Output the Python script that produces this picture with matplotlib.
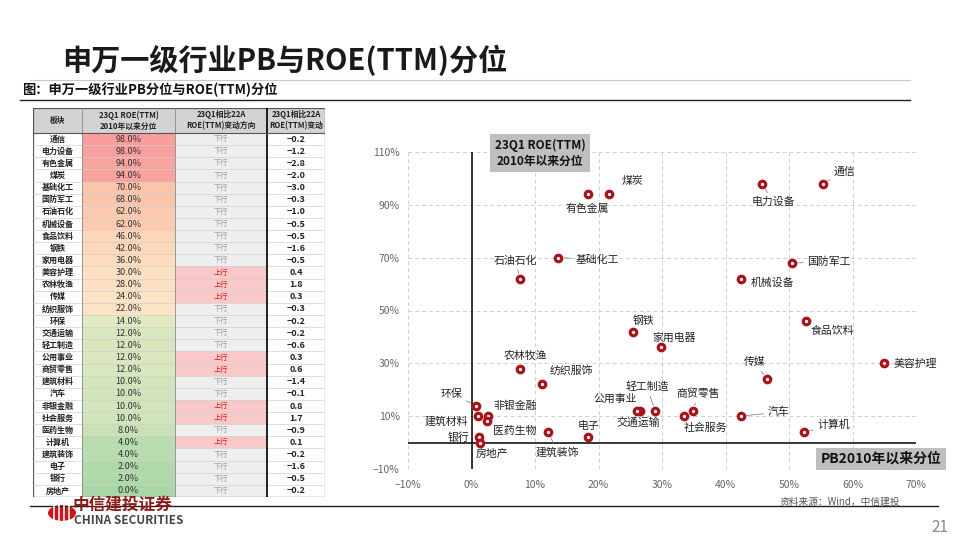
import matplotlib.pyplot as plt
from matplotlib.patches import Rectangle, Circle
from matplotlib.colors import LinearSegmentedColormap
from matplotlib.ticker import FuncFormatter

plt.rcParams['font.family'] = ['Noto Sans CJK SC', 'DejaVu Sans']

# ---- data ----
industries = ['通信', '电力设备', '有色金属', '煤炭', '基础化工', '国防军工', '石油石化', '机械设备',
              '食品饮料', '钢铁', '家用电器', '美容护理', '农林牧渔', '传媒', '纺织服饰', '环保',
              '交通运输', '轻工制造', '公用事业', '商贸零售', '建筑材料', '汽车', '非银金融',
              '社会服务', '医药生物', '计算机', '建筑装饰', '电子', '银行', '房地产']
roe_pct = [98, 98, 94, 94, 70, 68, 62, 62, 46, 42, 36, 30, 28, 24, 22, 14,
           12, 12, 12, 12, 10, 10, 10, 10, 8, 4, 4, 2, 2, 0]
roe_chg = [-0.2, -1.2, -2.8, -2.0, -3.0, -0.3, -1.0, -0.5, -0.5, -1.6, -0.5, 0.4, 1.8, 0.3,
           -0.3, -0.2, -0.2, -0.6, 0.3, 0.6, -1.4, -0.1, 0.8, 1.7, -0.9, 0.1, -0.2, -1.6,
           -0.5, -0.2]
pb_pct = [55.3, 45.7, 18.3, 21.7, 13.7, 50.4, 7.6, 42.5, 52.6, 25.4, 29.8, 65.0, 7.7, 46.5,
          11.1, 0.7, 26.6, 28.9, 26.0, 34.9, 1.1, 42.4, 2.6, 33.4, 2.5, 52.4, 12.1, 18.3,
          1.2, 1.3]
header = ['板块', '23Q1 ROE(TTM)\n2010年以来分位', '23Q1相比22A\nROE(TTM)变动方向',
          '23Q1相比22A\nROE(TTM)变动']
x_ticks = list(range(-10, 71, 10))
y_ticks = list(range(-10, 111, 20))

# label placement: offset in pixels from the point, alignment, leader line
label_layout = {
    '通信': (11, 12, 'left', True), '电力设备': (12, -18, 'center', True),
    '有色金属': (0, -15, 'center', False), '煤炭': (23, 13, 'center', False),
    '基础化工': (17, -2, 'left', True), '石油石化': (-4, 18, 'center', True),
    '国防军工': (16, 1, 'left', True), '机械设备': (9, -4, 'left', False),
    '钢铁': (11, 11, 'center', False), '家用电器': (13, 10, 'center', False),
    '食品饮料': (5, -10, 'left', False), '美容护理': (9, 0, 'left', False),
    '农林牧渔': (5, 13, 'center', False), '纺织服饰': (8, 14, 'left', False),
    '传媒': (-12, 17, 'center', True), '环保': (-14, 12, 'right', True),
    '非银金融': (5, 10, 'left', False), '建筑材料': (-10, -5, 'right', False),
    '医药生物': (6, -10, 'left', False), '银行': (-10, 0, 'right', False),
    '房地产': (-4, -11, 'left', False), '建筑装饰': (9, -20, 'center', True),
    '电子': (1, 11, 'center', False), '公用事业': (-21, 12, 'center', False),
    '交通运输': (-2, -12, 'center', False), '轻工制造': (-8, 24, 'center', True),
    '商贸零售': (5, 17, 'center', True), '社会服务': (22, -12, 'center', False),
    '汽车': (27, 4, 'left', True), '计算机': (13, 7, 'left', True),
}

W, H = 960, 540
fig = plt.figure(figsize=(9.6, 5.4), dpi=100)


def fx(px):
    return px / W


def fy(py):
    return 1 - py / H


# ---- slide frame ----
fig.text(fx(62), fy(60), '申万一级行业PB与ROE(TTM)分位', fontsize=21, fontweight='bold',
         color='#1a1a1a', ha='left', va='center')
fig.add_artist(plt.Line2D([fx(30), fx(910)], [fy(80), fy(80)], color='#c8c8c8', lw=0.8))
fig.text(fx(22), fy(90), '图：申万一级行业PB分位与ROE(TTM)分位', fontsize=9.5,
         fontweight='bold', color='#111', ha='left', va='center')
fig.add_artist(plt.Line2D([fx(20), fx(910)], [fy(100), fy(100)], color='#222', lw=1.0))
fig.add_artist(plt.Line2D([fx(30), fx(938)], [fy(506), fy(506)], color='#222', lw=1.0))
fig.text(fx(900), fy(502), '资料来源：Wind，中信建投', fontsize=7, color='#555',
         style='italic', ha='right', va='center')
fig.text(fx(948), fy(527), '21', fontsize=11, color='#888', ha='right', va='center')

# logo
logo = Circle((fx(62), fy(513)), 14 / W, transform=fig.transFigure, fc='#c8161d',
              ec='none')
fig.add_artist(logo)
for k in (-8, -3, 2, 7):
    fig.add_artist(plt.Line2D([fx(62 + k), fx(62 + k)], [fy(503), fy(523)], color='white',
                              lw=1.1))
fig.text(fx(73), fy(505), '中信建投证券', fontsize=12, fontweight='bold', color='#8e1b1b',
         ha='left', va='center')
fig.text(fx(74), fy(521), 'CHINA SECURITIES', fontsize=8.5, fontweight='bold',
         color='#444', ha='left', va='center')

# ---- table ----
cmap = LinearSegmentedColormap.from_list(
    'roe', [(0.0, '#a8d6a6'), (0.14, '#e2eac4'), (0.22, '#fde3c6'), (0.46, '#fdd6b8'),
            (0.70, '#fbc4ab'), (1.0, '#f89b9b')])

tab_w, tab_h = 292, 389
ax_t = fig.add_axes([fx(33), fy(497), tab_w / W, tab_h / H])
ax_t.set_xlim(0, tab_w)
ax_t.set_ylim(tab_h, 0)
ax_t.axis('off')

col_edges = [0, 49, 142, 234, 292]
head_h = 25
row_h = (tab_h - head_h) / len(industries)

ax_t.add_patch(Rectangle((0, 0), tab_w, head_h, fc='#d3d3d3', ec='none'))
for j, txt in enumerate(header):
    cx = (col_edges[j] + col_edges[j + 1]) / 2
    ax_t.text(cx, head_h / 2, txt, fontsize=5.6, fontweight='bold', color='#222',
              ha='center', va='center', linespacing=1.3)

for i, (name, roe, chg) in enumerate(zip(industries, roe_pct, roe_chg)):
    y0 = head_h + i * row_h
    yc = y0 + row_h / 2
    up = chg > 0
    ax_t.add_patch(Rectangle((col_edges[1], y0), col_edges[2] - col_edges[1], row_h,
                             fc=cmap(roe / 100), ec='none'))
    ax_t.add_patch(Rectangle((col_edges[2], y0), col_edges[3] - col_edges[2], row_h,
                             fc='#f9c8c8' if up else '#efefef', ec='none'))
    ax_t.text((col_edges[0] + col_edges[1]) / 2, yc, name, fontsize=5.8, fontweight='bold',
              color='#222', ha='center', va='center')
    ax_t.text((col_edges[1] + col_edges[2]) / 2, yc, f'{roe:.1f}%', fontsize=6.5,
              color='#333', ha='center', va='center')
    ax_t.text((col_edges[2] + col_edges[3]) / 2, yc, '上行' if up else '下行', fontsize=5.2,
              color='#d42020' if up else '#9a9a9a', ha='center', va='center')
    ax_t.text((col_edges[3] + col_edges[4]) / 2, yc, f'{chg:.1f}'.replace('-', '−'),
              fontsize=6.5, fontweight='bold', color='#222', ha='center', va='center')
    ax_t.plot([0, tab_w], [y0 + row_h, y0 + row_h], color='#d0d0d0', lw=0.5)

for j, xe in enumerate(col_edges[1:-1], start=1):
    if j == 3:
        ax_t.plot([xe, xe], [0, tab_h], color='#111', lw=1.3)
    else:
        ax_t.plot([xe, xe], [0, tab_h], color='#8a8a8a', lw=0.6)
ax_t.plot([0, tab_w], [head_h, head_h], color='#555', lw=0.8)
ax_t.add_patch(Rectangle((0, 0), tab_w, tab_h, fc='none', ec='#555', lw=0.9))

# ---- scatter ----
ax = fig.add_axes([fx(408), fy(469), (916 - 408) / W, (469 - 152) / H])
ax.set_xlim(-10, 70)
ax.set_ylim(-10, 110)
for s in ax.spines.values():
    s.set_visible(False)
ax.set_xticks(x_ticks)
ax.set_yticks(y_ticks)
pct_fmt = FuncFormatter(lambda v, p: f'{v:.0f}%'.replace('-', '−'))
ax.xaxis.set_major_formatter(pct_fmt)
ax.yaxis.set_major_formatter(pct_fmt)
ax.tick_params(length=0, labelsize=7.5, labelcolor='#666')
ax.tick_params(axis='x', pad=8)
ax.tick_params(axis='y', pad=6)
ax.grid(True, ls=(0, (4, 3)), color='#cfcfcf', lw=0.7)
ax.axhline(0, color='black', lw=1.1, zorder=3)
ax.axvline(0, color='black', lw=1.1, zorder=3)

ax.scatter(pb_pct, roe_pct, s=22, fc='white', ec='#a8141c', linewidths=2.3, zorder=6)
for name, xv, yv in zip(industries, pb_pct, roe_pct):
    dx, dy, ha, leader = label_layout[name]
    props = dict(arrowstyle='-', color='#888', lw=0.6, shrinkA=1, shrinkB=4) if leader else None
    ax.annotate(name, xy=(xv, yv), xytext=(dx, dy), textcoords='offset pixels', ha=ha,
                va='center', fontsize=7.8, color='#222', arrowprops=props, zorder=7)

fig.text(fx(540), fy(153), '23Q1 ROE(TTM)\n2010年以来分位', fontsize=8.5, fontweight='bold',
         color='#111', ha='center', va='center', linespacing=1.3,
         bbox=dict(boxstyle='square,pad=0.4', fc='#bfbfbf', ec='none'))
fig.text(fx(881), fy(459), 'PB2010年以来分位', fontsize=10, fontweight='bold',
         color='#111', ha='center', va='center',
         bbox=dict(boxstyle='square,pad=0.3', fc='#bfbfbf', ec='none'))

fig.savefig('out.png', dpi=100)
